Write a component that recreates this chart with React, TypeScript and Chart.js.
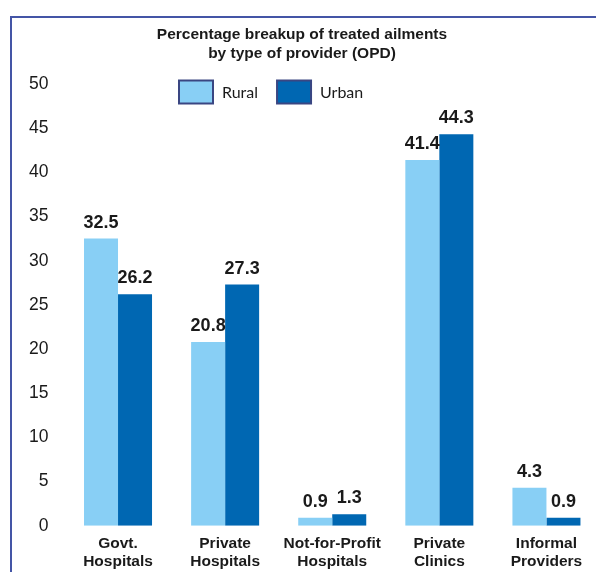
import React, { useEffect, useRef } from "react";
import { Chart, registerables } from "chart.js";

Chart.register(...registerables);

const titleLines = ["Percentage breakup of treated ailments", "by type of provider (OPD)"];
const categories: string[][] = [
  ["Govt.", "Hospitals"],
  ["Private", "Hospitals"],
  ["Not-for-Profit", "Hospitals"],
  ["Private", "Clinics"],
  ["Informal", "Providers"],
];
const seriesNames = ["Rural", "Urban"];
const rural = [32.5, 20.8, 0.9, 41.4, 4.3];
const urban = [26.2, 27.3, 1.3, 44.3, 0.9];
const seriesColors = ["#88CFF5", "#0067B2"];
const yMin = 0;
const yMax = 50;
const yStep = 5;

const TEXT = "#1a1a1a";
const ARIAL = "'Liberation Sans', Arial, sans-serif";

const decorPlugin = {
  id: "decor",
  afterDraw(chart: any) {
    const ctx = chart.ctx;
    ctx.save();
    // title
    ctx.fillStyle = TEXT;
    ctx.font = `bold 15.5px ${ARIAL}`;
    ctx.textAlign = "center";
    ctx.textBaseline = "middle";
    ctx.fillText(titleLines[0], 302, 35);
    ctx.fillText(titleLines[1], 302, 53.5);
    // legend
    const boxW = 34;
    const boxH = 23;
    let x = 179;
    const cy = 92;
    ctx.font = `16px Lato, 'Noto Sans', sans-serif`;
    ctx.textAlign = "left";
    chart.data.datasets.forEach((ds: any) => {
      ctx.fillStyle = ds.backgroundColor;
      ctx.fillRect(x, cy - boxH / 2, boxW, boxH);
      ctx.lineWidth = 2;
      ctx.strokeStyle = "#3a4682";
      ctx.strokeRect(x, cy - boxH / 2, boxW, boxH);
      ctx.fillStyle = TEXT;
      ctx.fillText(ds.label, x + boxW + 9, cy + 1);
      x += boxW + 9 + ctx.measureText(ds.label).width + 19;
    });
    ctx.restore();
  },
  afterDatasetsDraw(chart: any) {
    const ctx = chart.ctx;
    ctx.save();
    ctx.fillStyle = TEXT;
    ctx.font = `bold 18px ${ARIAL}`;
    ctx.textAlign = "center";
    ctx.textBaseline = "alphabetic";
    chart.data.datasets.forEach((ds: any, i: number) => {
      const meta = chart.getDatasetMeta(i);
      meta.data.forEach((bar: any, j: number) => {
        ctx.fillText(String(ds.data[j]), bar.x, bar.y - 11);
      });
    });
    ctx.restore();
  },
};

export default function App() {
  const ref = useRef<HTMLCanvasElement | null>(null);
  useEffect(() => {
    if (!ref.current) return;
    const chart = new Chart(ref.current, {
      type: "bar",
      data: {
        labels: categories,
        datasets: [
          { label: seriesNames[0], data: rural, backgroundColor: seriesColors[0] },
          { label: seriesNames[1], data: urban, backgroundColor: seriesColors[1] },
        ],
      },
      options: {
        animation: false,
        responsive: true,
        maintainAspectRatio: false,
        devicePixelRatio: 1,
        layout: { padding: { top: 84, left: 13, right: 10, bottom: 4 } },
        datasets: {
          bar: { categoryPercentage: 0.635, barPercentage: 1 },
        },
        plugins: {
          legend: { display: false },
          title: { display: false },
          tooltip: { enabled: false },
        },
        scales: {
          x: {
            grid: { display: false, drawTicks: false },
            border: { display: false },
            ticks: {
              color: TEXT,
              padding: 9,
              maxRotation: 0,
              autoSkip: false,
              font: { family: ARIAL, size: 15.5, weight: "bold", lineHeight: 1.17 },
            },
          },
          y: {
            min: yMin,
            max: yMax,
            grid: { display: false, drawTicks: false },
            border: { display: false },
            ticks: {
              stepSize: yStep,
              color: TEXT,
              padding: 16,
              font: { family: ARIAL, size: 17.5 },
            },
          },
        },
      },
      plugins: [decorPlugin],
    } as any);
    return () => chart.destroy();
  }, []);

  return (
    <div
      style={{
        position: "fixed",
        left: 0,
        top: 0,
        width: 596,
        height: 572,
        overflow: "hidden",
        background: "#fff",
      }}
    >
      <div
        style={{
          position: "absolute",
          left: 10,
          top: 16,
          width: 700,
          height: 700,
          borderTop: "2px solid #4455a6",
          borderLeft: "2px solid #4455a6",
        }}
      />
      <div style={{ position: "absolute", left: 0, top: 0, width: 610, height: 584 }}>
        <canvas ref={ref} />
      </div>
    </div>
  );
}
